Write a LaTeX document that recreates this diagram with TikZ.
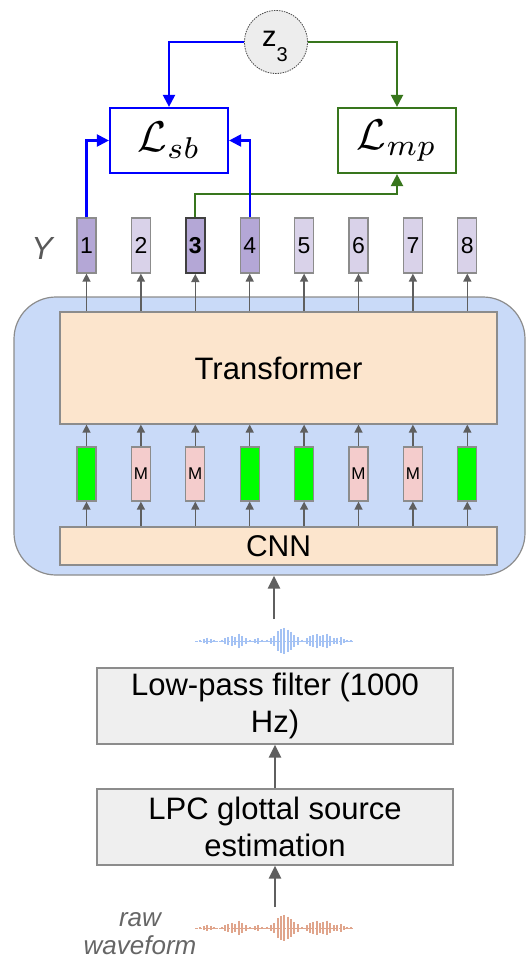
\documentclass[tikz,border=0pt]{standalone}
\usepackage{fontspec}
\setmainfont{Liberation Sans}
\usetikzlibrary{arrows.meta}
\definecolor{bluebg}{HTML}{C9DAF8}
\definecolor{peach}{HTML}{FCE5CD}
\definecolor{pinkm}{HTML}{F4CCCC}
\definecolor{greenm}{HTML}{00FF00}
\definecolor{ydark}{HTML}{B4A7D6}
\definecolor{ylight}{HTML}{D9D2E9}
\definecolor{boxgray}{HTML}{EFEFEF}
\definecolor{edgegray}{HTML}{8C8C8C}
\definecolor{arrowgray}{HTML}{5F5F5F}
\definecolor{lossblue}{HTML}{0000FF}
\definecolor{lossgreen}{HTML}{38761D}
\definecolor{wavblue}{HTML}{A4C2F4}
\definecolor{wavred}{HTML}{E0A58C}
\definecolor{labgray}{HTML}{595959}
\begin{document}
\begin{tikzpicture}[x=1pt,y=-1pt,
  blk/.style={draw=edgegray, line width=1.2pt, inner sep=0pt},
  ybox/.style={blk, minimum width=19pt, minimum height=55pt, font=\fontsize{23}{23}\selectfont},
  mbox/.style={blk, minimum width=19pt, minimum height=54pt, font=\fontsize{17}{17}\selectfont},
  sarrow/.style={draw=arrowgray, line width=1.4pt, -{Triangle[width=8pt,length=8pt]}},
  barrow/.style={draw=arrowgray, line width=2.6pt, -{Triangle[width=12pt,length=13pt]}},
  barrowb/.style={draw=lossblue, line width=2.2pt, -{Triangle[width=12pt,length=12pt]}},
  garrowg/.style={draw=lossgreen, line width=2.2pt, -{Triangle[width=12pt,length=12pt]}},
  lossbox/.style={line width=2.2pt, minimum width=118pt, minimum height=65pt, inner sep=0pt, fill=white},
  bigtext/.style={font=\fontsize{31}{37}\selectfont, align=center}
]
\useasboundingbox (0,0) rectangle (526,963);

% encoder background
\node[draw=edgegray, line width=1.2pt, fill=bluebg, rounded corners=42pt,
      minimum width=511pt, minimum height=278pt, inner sep=0pt] (enc) at (269.5,436) {};
\node[blk, fill=peach, minimum width=437pt, minimum height=112pt, font=\fontsize{31}{31}\selectfont] (trans) at (278.5,368) {Transformer};
\node[blk, fill=peach, minimum width=437pt, minimum height=38pt, font=\fontsize{30}{30}\selectfont] (cnn) at (278.5,546) {CNN};

% middle boxes
\node[mbox, fill=greenm] (m1) at (86.5,474) {};
\node[mbox, fill=pinkm]  (m2) at (140.9,474) {M};
\node[mbox, fill=pinkm]  (m3) at (195.3,474) {M};
\node[mbox, fill=greenm] (m4) at (249.7,474) {};
\node[mbox, fill=greenm] (m5) at (304.1,474) {};
\node[mbox, fill=pinkm]  (m6) at (358.5,474) {M};
\node[mbox, fill=pinkm]  (m7) at (412.9,474) {M};
\node[mbox, fill=greenm] (m8) at (467.3,474) {};

% output tokens
\node[ybox, fill=ydark]  (y1) at (86.5,245.5) {1};
\node[ybox, fill=ylight] (y2) at (140.9,245.5) {2};
\node[ybox, fill=ydark, draw=black!75, line width=2pt, font=\fontsize{23}{23}\selectfont\bfseries] (y3) at (195.3,245.5) {3};
\node[ybox, fill=ydark]  (y4) at (249.7,245.5) {4};
\node[ybox, fill=ylight] (y5) at (304.1,245.5) {5};
\node[ybox, fill=ylight] (y6) at (358.5,245.5) {6};
\node[ybox, fill=ylight] (y7) at (412.9,245.5) {7};
\node[ybox, fill=ylight] (y8) at (467.3,245.5) {8};
\node[font=\fontsize{32}{32}\selectfont\itshape, text=labgray] (ylab) at (42,248) {Y};

\foreach \i in {1,...,8}{
  \draw[sarrow] (cnn.north -| m\i) -- (m\i.south);
  \draw[sarrow] (m\i.north) -- (trans.south -| m\i);
  \draw[sarrow] (trans.north -| y\i) -- (y\i.south);
}

% losses
\node[lossbox, draw=lossblue] (lsb) at (169,140.5) {\scalebox{4.3}{$\mathcal{L}_{sb}$}};
\node[lossbox, draw=lossgreen] (lmp) at (397,140.5) {\scalebox{4.3}{$\mathcal{L}_{mp}$}};
\node[circle, draw=black!70, dash pattern=on 1.5pt off 1pt, line width=0.8pt, fill=black!7, minimum size=63pt, inner sep=0pt] (z) at (276,42) {};
\node[anchor=base west, inner sep=0pt] (ztext) at (262,47) {{\fontsize{29}{29}\selectfont z}\raisebox{-15pt}{\fontsize{20}{20}\selectfont 3}};

\draw[garrowg] (z.east) -| (lmp.north);
\draw[garrowg] (y3.north) -- ++(0,-23) -| (lmp.south);
\draw[barrowb] (z.west) -| (lsb.north);
\draw[barrowb] (y1.north) |- (lsb.west);
\draw[barrowb] (y4.north) |- (lsb.east);

% lower pipeline
\node[blk, fill=boxgray, minimum width=356pt, minimum height=76pt, bigtext] (lp) at (275,706) {Low-pass filter (1000\\Hz)};
\node[blk, fill=boxgray, minimum width=356pt, minimum height=76pt, bigtext] (lpc) at (275,827) {LPC glottal source\\estimation};
\coordinate (a1) at (274,619);
\draw[barrow] (a1) -- (a1 |- enc.south);
\draw[barrow] (lpc.north) -- (lp.south);
\coordinate (a3) at (275,907);
\draw[barrow] (a3) -- (lpc.south);

\node[font=\fontsize{26}{28}\selectfont\itshape, text=black!60, align=center] (raw) at (140,934) {raw\\waveform};

% waveforms
\foreach \cy/\col in {641/wavblue, 928/wavred}{
  \draw[\col, line width=1pt, dash pattern=on 2.5pt off 1.5pt] (195,\cy) -- (353,\cy);
  \foreach \v/\h in {30/6, 42/10, 52/18, 62/12, 72/6, 95/6, 105/14, 115/22, 125/28, 135/22, 147/40, 157/26, 167/16, 180/6, 195/10, 205/16, 215/8, 232/8, 242/18, 252/26, 263/54, 273/64, 283/72, 293/62, 303/50, 313/32, 323/20, 336/8, 350/16, 360/26, 370/34, 380/38, 390/28, 400/34, 410/40, 420/26, 432/14, 442/18, 452/22, 462/12, 472/6, 482/4}{
    \draw[\col, line width=2pt] ({190+\v/3},{\cy-\h/5.5}) -- ({190+\v/3},{\cy+\h/5.5});
  }
}
\end{tikzpicture}
\end{document}
